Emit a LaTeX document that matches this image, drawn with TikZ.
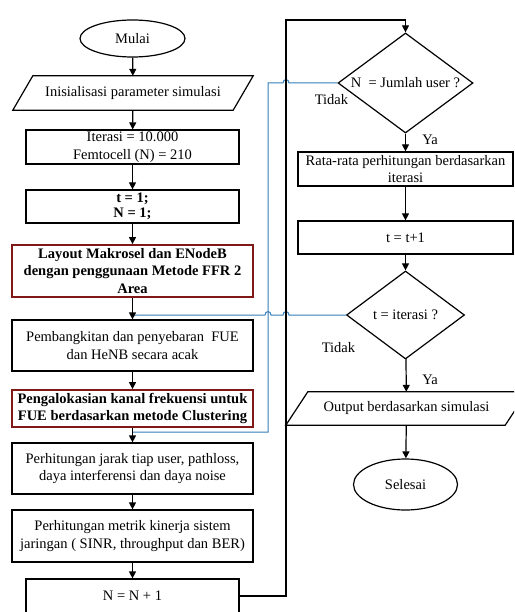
\documentclass[tikz,border=0pt]{standalone}
\usepackage{fontspec}
\setmainfont{Liberation Serif}
\usetikzlibrary{shapes.geometric,arrows.meta}
\definecolor{linkblue}{RGB}{52,125,185}
\definecolor{boxred}{RGB}{128,24,24}
\begin{document}
\begin{tikzpicture}[x=1pt,y=-1pt,
  every node/.style={font=\fontsize{14.5}{17.5}\selectfont, inner sep=0pt, align=center},
  proc/.style={draw, line width=1.2pt, rectangle},
  keybox/.style={draw=boxred, line width=1.8pt, rectangle, font=\fontsize{14.5}{17.5}\selectfont\bfseries},
  term/.style={draw, line width=1.2pt, ellipse},
  iobody/.style={rectangle},
  ioedge/.style={line width=1.2pt},
  test/.style={draw, line width=1.2pt, diamond},
  flow/.style={line width=1.2pt, -{Triangle[length=7pt,width=7pt]}},
  back/.style={draw=linkblue, line width=1pt}
]
\useasboundingbox (0,0) rectangle (514,612);
\clip (0,0) rectangle (514,612);

% left column
\node[term, minimum width=105pt, minimum height=37pt] (mulai) at (132.5,38.5) {Mulai};
\node[iobody, minimum width=220pt, minimum height=34pt] (init) at (133,93) {Inisialisasi parameter simulasi};
\draw[ioedge] ([xshift=10pt]init.north west) -- ([xshift=10pt]init.north east)
  -- ([xshift=-10pt]init.south east) -- ([xshift=-10pt]init.south west) -- cycle;
\node[proc, minimum width=213pt, minimum height=34pt] (iter) at (132.5,147) {Iterasi = 10.000\\Femtocell (N) = 210};
\node[proc, minimum width=213pt, minimum height=33pt, font=\fontsize{14.5}{15.5}\selectfont\bfseries] (tn) at (132.5,206.5) {t = 1;\\N = 1;};
\node[keybox, minimum width=241pt, minimum height=52pt] (layout) at (132.5,271) {Layout Makrosel dan ENodeB\\dengan penggunaan Metode FFR 2\\Area};
\node[proc, minimum width=241pt, minimum height=51pt] (gen) at (132.5,345.5) {Pembangkitan dan penyebaran~ FUE\\dan HeNB secara acak};
\node[keybox, minimum width=241pt, minimum height=37pt] (alloc) at (132.5,408.5) {Pengalokasian kanal frekuensi untuk\\FUE berdasarkan metode Clustering};
\node[proc, minimum width=241pt, minimum height=51pt] (dist) at (132.5,468.5) {Perhitungan jarak tiap user, pathloss,\\daya interferensi dan daya noise};
\node[proc, minimum width=241pt, minimum height=52pt] (metric) at (132.5,536) {Perhitungan metrik kinerja sistem\\jaringan ( SINR, throughput dan BER)};
\node[proc, minimum width=213pt, minimum height=34pt] (nn) at (132.5,596) {N = N + 1};

% right column
\node[test, shape aspect=1.35, minimum width=135pt, minimum height=100pt] (d1) at (405.5,83) {N~ = Jumlah user ?};
\node[proc, minimum width=215pt, minimum height=34pt] (avg) at (405.5,169) {Rata-rata perhitungan berdasarkan\\iterasi};
\node[proc, minimum width=215pt, minimum height=33pt] (tinc) at (405.5,237.5) {t = t+1};
\node[test, shape aspect=1.34, minimum width=118pt, minimum height=88pt] (d2) at (405.5,315) {t = iterasi ?};
\node[iobody, minimum width=219pt, minimum height=33pt] (out) at (406.5,408.5) {Output berdasarkan simulasi};
\draw[ioedge] ([xshift=11pt]out.north west) -- ([xshift=11pt]out.north east)
  -- ([xshift=-11pt]out.south east) -- ([xshift=-11pt]out.south west) -- cycle;
\node[term, minimum width=104pt, minimum height=51pt] (selesai) at (405.5,484.5) {Selesai};

% branch labels
\node (tidak1) at (331.5,100) {Tidak};
\node (ya1) at (430,140) {Ya};
\node (tidak2) at (338.5,348) {Tidak};
\node (ya2) at (430,380) {Ya};

% return points on the main flow
\coordinate (j1) at (132.5,432);
\coordinate (j2) at (132.5,315);
\coordinate (loop) at (286,20);

% blue return lines (with hops over crossing lines)
\draw[back] (d1.west) -- (289,83) .. controls (289,78.5) and (283,78.5) .. (283,83)
  -- (268,83) -- (268,432) -- (j1);
\draw[back] (d2.west) -- (289,315) .. controls (289,310.5) and (283,310.5) .. (283,315)
  -- (271,315) .. controls (271,310.5) and (265,310.5) .. (265,315) -- (j2);

% main flow, left column
\draw[flow] (mulai) -- (init);
\draw[flow] (init) -- (iter);
\draw[flow] (iter) -- (tn);
\draw[flow] (tn) -- (layout);
\draw[flow] (layout) -- (gen);
\draw[flow] (gen) -- (alloc);
\draw[flow] (alloc) -- (dist);
\draw[flow] (dist) -- (metric);
\draw[flow] (metric) -- (nn);

% user loop back to the first test
\draw[flow] (nn.east) -| (loop) -| (d1.north);

% main flow, right column
\draw[flow] (d1) -- (avg);
\draw[flow] (avg) -- (tinc);
\draw[flow] (tinc) -- (d2);
\draw[flow] (d2) -- (out);
\draw[flow] (out) -- (selesai);
\end{tikzpicture}
\end{document}
